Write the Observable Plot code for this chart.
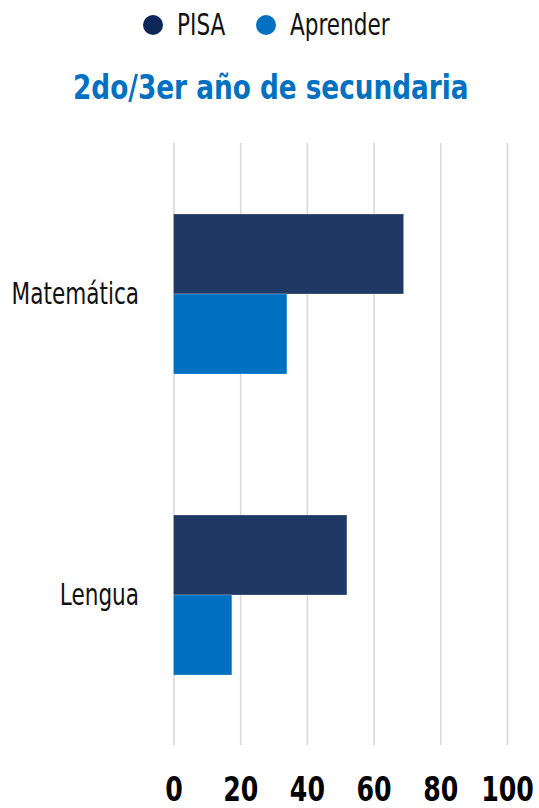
<!DOCTYPE html>
<html>
<head>
<meta charset="utf-8">
<script src="https://cdn.jsdelivr.net/npm/d3@7"></script>
<script src="https://cdn.jsdelivr.net/npm/@observablehq/plot@0.6"></script>
<style>
  html, body { margin: 0; padding: 0; background: #fff; }
  #wrap { width: 539px; height: 808px; position: relative; overflow: hidden; font-family: "DejaVu Sans Condensed", "DejaVu Sans", sans-serif; font-stretch: condensed; }
  .dot { position: absolute; width: 20px; height: 20px; border-radius: 50%; }
  .ltext { position: absolute; font-size: 30px; line-height: 30px; color: #111; transform: scaleX(0.8); transform-origin: left center; white-space: nowrap; }
  #title { position: absolute; top: 67px; left: 0; width: 539px; text-align: center; font-size: 34px; font-weight: bold; color: #0070c0; transform: scaleX(0.86); transform-origin: 279px 0; white-space: nowrap; }
  #chart { position: absolute; top: 120px; left: 0; }
  #chart svg { overflow: visible; }
  #chart text { font-stretch: condensed; }
  #chart [aria-label="x-axis tick label"] text { font-weight: bold; font-size: 33px; fill: #000; }
  #chart [aria-label="fy-axis tick label"] text { font-size: 30px; fill: #111; }
</style>
</head>
<body>
<div id="wrap">
  <div id="legend"></div>
  <div id="title">2do/3er año de secundaria</div>
  <div id="chart"></div>
</div>
<script>
const categories = ["Matemática", "Lengua"];
const series = ["PISA", "Aprender"];
const pisaValues = [69, 52];
const aprenderValues = [34, 17.5];
const xTicks = [0, 20, 40, 60, 80, 100];
const colors = ["#203864", "#0070c0"];
const legendColors = ["#0d2858", "#0070c0"];

const data = [];
categories.forEach((c, i) => {
  data.push({category: c, series: "PISA", value: pisaValues[i]});
  data.push({category: c, series: "Aprender", value: aprenderValues[i]});
});

// legend
const legend = document.getElementById("legend");
const legendDotX = [143, 256];
series.forEach((s, i) => {
  const d = document.createElement("div");
  d.className = "dot";
  d.style.left = legendDotX[i] + "px";
  d.style.top = "15px";
  d.style.background = legendColors[i];
  legend.appendChild(d);
  const t = document.createElement("div");
  t.className = "ltext";
  t.style.left = (legendDotX[i] + 34) + "px";
  t.style.top = "10px";
  t.textContent = s;
  legend.appendChild(t);
});

const chart = Plot.plot({
  width: 539,
  height: 688,
  marginTop: 22,
  marginBottom: 63,
  marginLeft: 173.5,
  marginRight: 32,
  style: {fontFamily: '"DejaVu Sans Condensed", "DejaVu Sans", sans-serif', background: "#fff"},
  x: {domain: [0, 100], ticks: xTicks, tickSize: 0, tickPadding: 32, label: null},
  y: {domain: series, axis: null, paddingInner: 0, paddingOuter: 0.88},
  fy: {domain: categories, padding: 0, label: null, tickSize: 0, tickPadding: 35},
  color: {domain: series, range: colors},
  marks: [
    Plot.gridX(xTicks, {stroke: "#d9d9d9", strokeOpacity: 1, strokeWidth: 1.6}),
    Plot.barX(data, {fy: "category", y: "series", x: "value", fill: "series", stroke: "#ffffff", strokeWidth: 0.6, strokeOpacity: 0.4})
  ]
});
document.getElementById("chart").appendChild(chart);

// condense label glyphs horizontally to match the narrow typeface of the reference
function squeeze(sel, k) {
  chart.querySelectorAll(sel).forEach(el => {
    const tr = el.getAttribute("transform") || "";
    el.setAttribute("transform", (tr + ` scale(${k},1)`).trim());
  });
}
squeeze('[aria-label="x-axis tick label"] text', 0.85);
squeeze('[aria-label="fy-axis tick label"] text', 0.8);
</script>
</body>
</html>
